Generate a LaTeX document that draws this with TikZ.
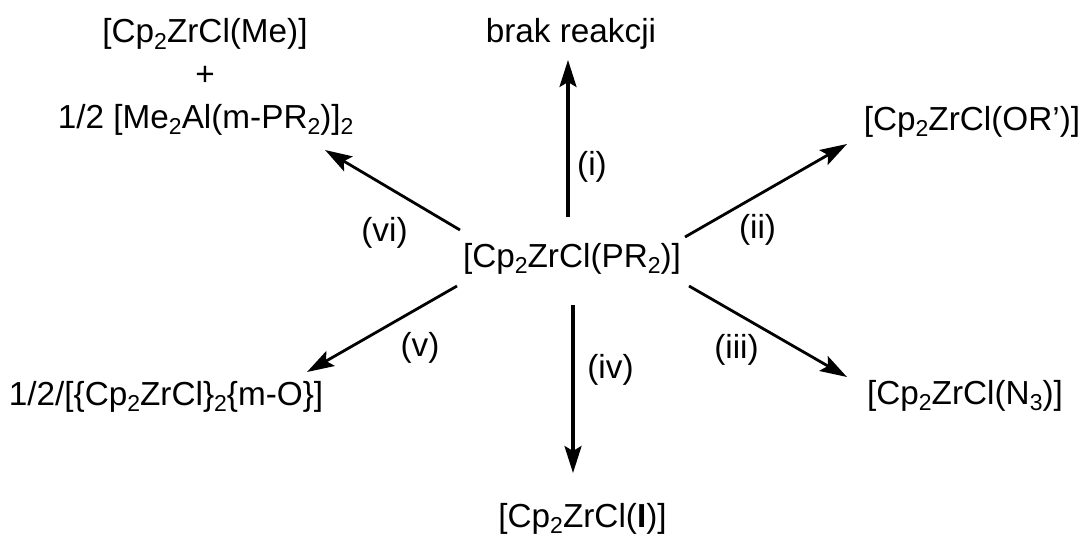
\documentclass[tikz,border=0pt]{standalone}
\usepackage{fontspec}
\setmainfont{Liberation Sans}
\usetikzlibrary{arrows.meta}
\newcommand{\sbs}[1]{\raisebox{-6.5pt}{\fontsize{23}{26}\selectfont #1}}
\tikzset{
 lbl/.style={inner sep=0pt,font=\fontsize{33.3}{40}\selectfont,anchor=base},
 rxn/.style={line width=2.8pt,-{Stealth[length=27pt,width=17pt,inset=5pt]}},
 rxnv/.style={rxn,line width=3.2pt}
}
\begin{document}
\begin{tikzpicture}[x=1pt,y=-1pt]
\useasboundingbox (0,0) rectangle (1083,535);
\node[lbl] (c) at (572,267) {[Cp\sbs{2}ZrCl(PR\sbs{2})]};
\node[lbl] (top) at (571,43) {brak reakcji};
\node[lbl] (me) at (205,43) {[Cp\sbs{2}ZrCl(Me)]};
\node[lbl] (plus) at (205,85) {+};
\node[lbl] (al) at (205.7,128) {1/2 [Me\sbs{2}Al(m-PR\sbs{2})]\sbs{2}};
\node[lbl] (or) at (972,130) {[Cp\sbs{2}ZrCl(OR')]};
\node[lbl] (n) at (965,404) {[Cp\sbs{2}ZrCl(N\sbs{3})]};
\node[lbl] (i2) at (582.5,527) {[Cp\sbs{2}ZrCl(\textbf{I})]};
\node[lbl] (o) at (166,405) {1/2/[\{Cp\sbs{2}ZrCl\}\sbs{2}\{m-O\}]};
\node[lbl] (li) at (592,175) {(i)};
\node[lbl] (lii) at (757.5,238) {(ii)};
\node[lbl] (liii) at (736.5,358) {(iii)};
\node[lbl] (liv) at (610.5,378) {(iv)};
\node[lbl] (lv) at (420,356) {(v)};
\node[lbl] (lvi) at (384.5,241) {(vi)};
\coordinate (a0) at (568,217); \coordinate (a1) at (568,60);
\coordinate (b0) at (685,237); \coordinate (b1) at (847,144);
\coordinate (d0) at (689,286); \coordinate (d1) at (847,377);
\coordinate (e0) at (573,305); \coordinate (e1) at (573,473);
\coordinate (f0) at (457,286); \coordinate (f1) at (307,372);
\coordinate (g0) at (460,230); \coordinate (g1) at (325,150);
\foreach \s/\t in {a0/a1,e0/e1} \draw[rxnv] (\s) -- (\t);
\foreach \s/\t in {b0/b1,d0/d1,f0/f1,g0/g1} \draw[rxn] (\s) -- (\t);
\end{tikzpicture}
\end{document}
